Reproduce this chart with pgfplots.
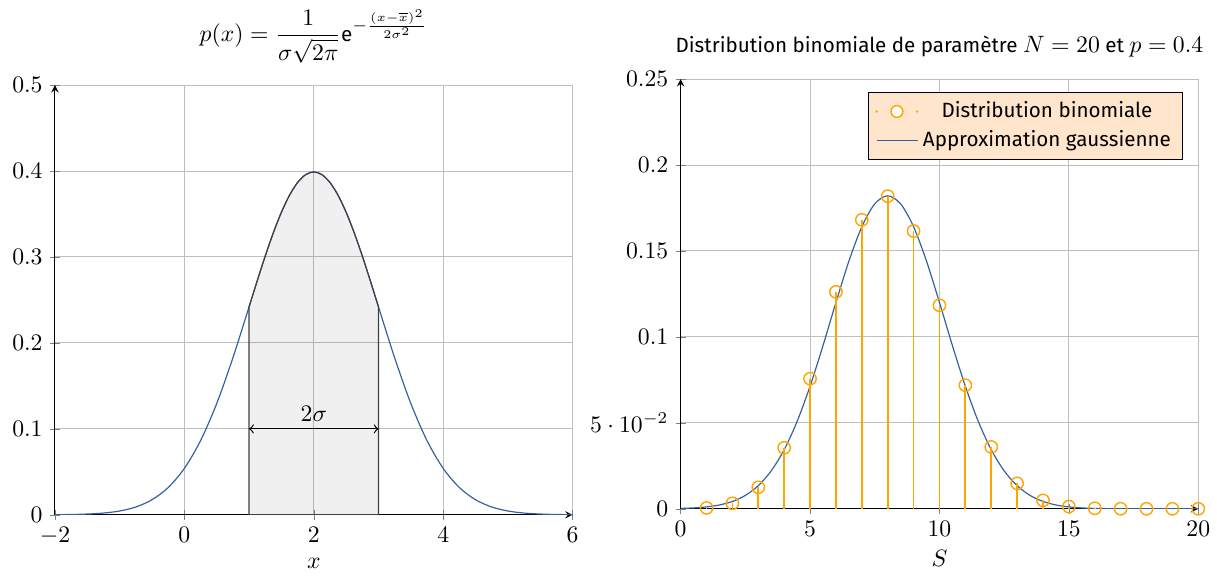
\documentclass[border=0pt]{standalone}
\usepackage[no-math]{fontspec}
\setmainfont{Fira Sans}[Scale=0.87]
\usepackage{pgfplots}
\pgfplotsset{compat=1.18}
\definecolor{cblue}{RGB}{52,96,160}
\definecolor{corange}{RGB}{255,165,0}
\begin{document}
\begin{tikzpicture}
\begin{axis}[name=left, at={(0,0)}, anchor=south west, scale only axis,
  width=218.5pt, height=181.4pt,
  xmin=-2, xmax=6, ymin=0, ymax=0.5,
  axis lines=left, grid=major,
  xtick={-2,0,2,4,6}, ytick={0,0.1,0.2,0.3,0.4,0.5},
  xlabel={$x$},
  title={$p(x)=\displaystyle\frac{1}{\sigma\sqrt{2\pi}}\textrm{e}^{-\frac{(x-\overline{x})^2}{2\sigma^2}}$}]
\addplot[cblue, line width=0.5pt, smooth] coordinates {
(-2,0.000134) (-1.75,0.000353) (-1.5,0.000873) (-1.25,0.002029) (-1,0.004432)
(-0.75,0.009094) (-0.5,0.017528) (-0.25,0.031740) (0,0.053991) (0.25,0.086277)
(0.5,0.129518) (0.75,0.182649) (1,0.241971) (1.125,0.272055) (1.25,0.301137) (1.375,0.328161) (1.5,0.352065)
(1.625,0.371855) (1.75,0.386668) (1.875,0.395837) (2,0.398942) (2.125,0.395837) (2.25,0.386668) (2.375,0.371855) (2.5,0.352065) (2.625,0.328161) (2.75,0.301137)
(2.875,0.272055) (3,0.241971) (3.25,0.182649) (3.5,0.129518) (3.75,0.086277) (4,0.053991)
(4.25,0.031740) (4.5,0.017528) (4.75,0.009094) (5,0.004432) (5.25,0.002029)
(5.5,0.000873) (5.75,0.000353) (6,0.000134)};
\addplot[fill=black, fill opacity=0.06, draw=black!75, line width=0.5pt, smooth] coordinates {
(1,0.241971) (1.125,0.272055) (1.25,0.301137) (1.375,0.328161) (1.5,0.352065)
(1.625,0.371855) (1.75,0.386668) (1.875,0.395837) (2,0.398942) (2.125,0.395837) (2.25,0.386668) (2.375,0.371855) (2.5,0.352065) (2.625,0.328161) (2.75,0.301137)
(2.875,0.272055) (3,0.241971)} \closedcycle;
\addplot[<->, black, line width=0.5pt] coordinates {(1,0.1) (3,0.1)} node[pos=0.5, above] {$2\sigma$};
\end{axis}

\begin{axis}[name=right, at={(264.1pt,2.53pt)}, anchor=south west, scale only axis,
  width=218.5pt, height=181.4pt,
  xmin=0, xmax=20, ymin=0, ymax=0.25,
  axis lines=left, grid=major,
  xtick={0,5,10,15,20}, ytick={0,0.05,0.1,0.15,0.2,0.25},
  xlabel={$S$},
  title={Distribution binomiale de paramètre $N=20$ et $p=0.4$},
  legend style={fill=orange!20, draw=black, at={(0.971,0.97)}, anchor=north east}]
\addlegendimage{legend image code/.code={
  \fill[corange] (0cm,0cm) circle (0.25pt);
  \fill[corange] (0.6cm,0cm) circle (0.25pt);
  \draw[corange, line width=0.6pt, fill=white] (0.3cm,0cm) circle (2.5pt);}}
\addlegendentry{Distribution binomiale}
\addplot[cblue, line width=0.5pt, smooth] coordinates {
(0,0.000232) (0.5,0.000519) (1,0.001105) (1.5,0.002233) (2,0.004282) (2.5,0.007795)
(3,0.013469) (3.5,0.022090) (4,0.034392) (4.5,0.050830) (5,0.071305) (5.5,0.094963)
(6,0.120041) (6.5,0.144046) (7,0.164076) (7.5,0.177409) (8,0.18209) (8.5,0.177409)
(9,0.164076) (9.5,0.144046) (10,0.120041) (10.5,0.094963) (11,0.071305) (11.5,0.050830)
(12,0.034392) (12.5,0.022090) (13,0.013469) (13.5,0.007795) (14,0.004282) (14.5,0.002233)
(15,0.001105) (15.5,0.000519) (16,0.000232) (17,0.0000394) (18,0.0000054) (19,0.0000006) (20,0)};
\addlegendentry{Approximation gaussienne}
\addplot[ycomb, corange, line width=0.75pt, forget plot] coordinates {
(1,0.0005) (2,0.0032) (3,0.0125) (4,0.0355) (5,0.0757) (6,0.1262) (7,0.1681)
(8,0.1819) (9,0.1616) (10,0.1184) (11,0.0719) (12,0.0360) (13,0.0148) (14,0.0049)
(15,0.0013) (16,0.0003) (17,0.00004) (18,0) (19,0) (20,0)};
\addplot[only marks, mark=o, mark size=2.6pt, corange, mark options={fill=white, line width=0.6pt}, forget plot] coordinates {
(1,0.0005) (2,0.0032) (3,0.0125) (4,0.0355) (5,0.0757) (6,0.1262) (7,0.1681)
(8,0.1819) (9,0.1616) (10,0.1184) (11,0.0719) (12,0.0360) (13,0.0148) (14,0.0049)
(15,0.0013) (16,0.0003) (17,0.00004) (18,0) (19,0) (20,0)};
\end{axis}
\path (-23.2pt,-27.0pt) rectangle (490.2pt,217.3pt);
\end{tikzpicture}
\end{document}
